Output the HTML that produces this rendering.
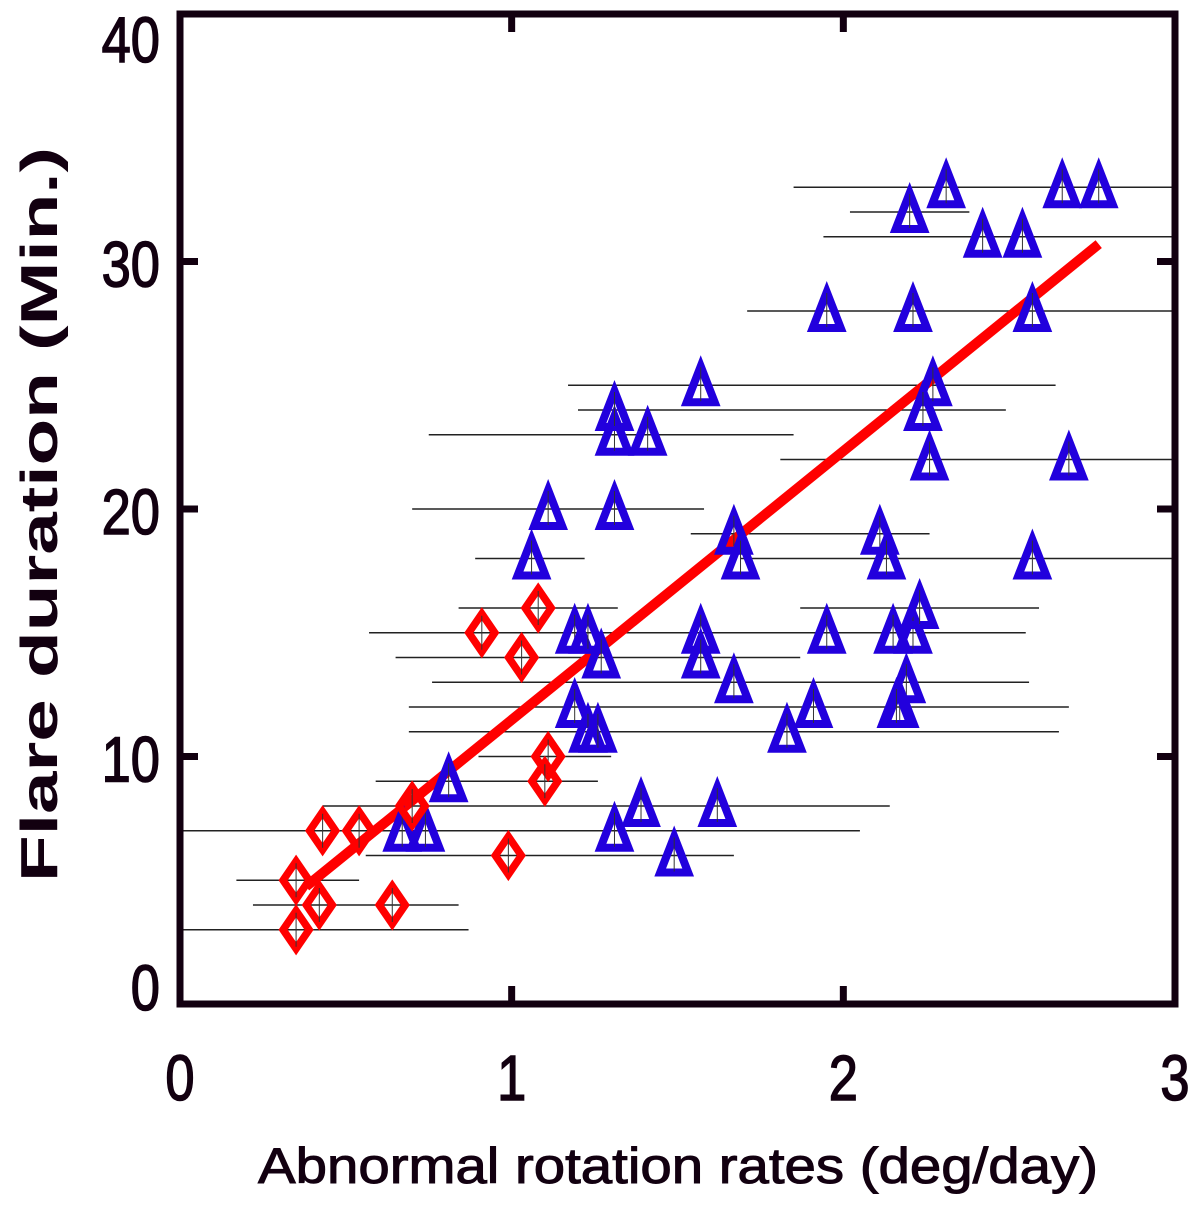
<!DOCTYPE html>
<html><head><meta charset="utf-8"><style>
html,body{margin:0;padding:0;background:#fff;}
svg{display:block;font-family:"Liberation Sans",sans-serif;}
</style></head><body>
<svg id="chart" width="1200" height="1207" viewBox="0 0 1200 1207" xmlns="http://www.w3.org/2000/svg">
<g id="errbars"></g>
<g id="fit"></g>
<g id="marks"></g>
<g id="axes"></g>
</svg>
<script>
const redX=[0.35,0.42,0.35,0.64,0.43,0.54,0.70,0.99,0.91,1.03,1.08,1.11,1.10];
const redY=[3,4,5,4,7,7,8,6,15,14,16,10,9];
const blueX=[1.06,1.19,1.23,1.27,1.19,1.23,1.26,0.81,0.67,0.74,1.31,1.39,1.49,1.62,1.11,1.31,1.31,1.31,1.41,1.57,1.67,1.69,1.57,1.57,1.67,1.83,1.91,1.95,2.11,2.13,2.15,2.21,2.23,2.19,2.17,2.16,1.95,2.21,2.57,2.20,2.31,2.42,2.54,2.66,2.77,2.27,2.24,2.26,2.68,2.57];
const blueY=[18,15,15,14,12,11,11,9,7,7,7,8,6,8,20,20,23,24,23,25,19,18,15,14,13,11,12,15,19,18,15,15,16,13,12,12,28,28,28,32,33,31,31,33,33,25,24,22,22,18];
const ebY=[33,32,31,28,25,24,23,22,20,19,18,18,16,16,15,14,13,12,11,10,9,8,7,6,5,4,3];
const ebLo=[1.85,2.02,1.94,1.71,1.17,1.20,0.75,1.81,0.70,1.54,0.89,1.69,0.84,1.87,0.57,0.65,0.76,0.69,0.69,0.90,0.59,0.43,0.00,0.56,0.17,0.22,0.00];
const ebHi=[3.00,2.38,3.00,3.00,2.64,2.49,1.85,3.00,1.58,2.26,1.22,3.00,1.32,2.59,2.55,1.87,2.56,2.68,2.65,1.30,1.26,2.14,2.05,1.67,0.54,0.84,0.87];
const fitX=[0.38,2.77];
const fitSlope=10.86, fitIntercept=0.62;
const xTicks=[0,1,2,3];
const yTicks=[0,10,20,30,40];

const L=180,R=1175,T=14,B=1004;
const X=v=>L+(v-0)/(3-0)*(R-L);
const Y=v=>B-(v-0)/(40-0)*(B-T);
const NS="http://www.w3.org/2000/svg";
function mk(tag,attrs,parent){const e=document.createElementNS(NS,tag);for(const k in attrs)e.setAttribute(k,attrs[k]);parent.appendChild(e);return e;}

const eb=document.getElementById('errbars');
for(let i=0;i<ebY.length;i++){
  const l=mk('line',{x1:X(ebLo[i]),x2:X(ebHi[i]),y1:Y(ebY[i]),y2:Y(ebY[i]),stroke:'#222','stroke-width':1.5},eb);
  
  
}
const fit=document.getElementById('fit');
const fl=mk('line',{x1:X(fitX[0]),y1:Y(fitIntercept+fitSlope*fitX[0]),x2:X(fitX[1]),y2:Y(fitIntercept+fitSlope*fitX[1]),stroke:'#ff0000','stroke-width':10},fit);



const mg=document.getElementById('marks');
for(let i=0;i<blueX.length;i++){
  const cx=X(blueX[i]),cy=Y(blueY[i]);
  const p=mk('polygon',{points:`${cx},${cy-19} ${cx+14},${cy+17} ${cx-14},${cy+17}`,fill:'none',stroke:'#2200dd','stroke-width':8,'stroke-linejoin':'miter'},mg);
  
  
  mk('line',{x1:cx,x2:cx,y1:cy-18,y2:cy+16,stroke:'#333','stroke-width':1},mg);
}
for(let i=0;i<redX.length;i++){
  const cx=X(redX[i]),cy=Y(redY[i]);
  const p=mk('polygon',{points:`${cx},${cy-19} ${cx+13},${cy} ${cx},${cy+19} ${cx-13},${cy}`,fill:'none',stroke:'#ff0000','stroke-width':7.5},mg);
  
  
  mk('line',{x1:cx,x2:cx,y1:cy-17,y2:cy+17,stroke:'#333','stroke-width':1},mg);
}

const ax=document.getElementById('axes');
const fr=mk('rect',{x:L,y:T,width:R-L,height:B-T,fill:'none',stroke:'#120010','stroke-width':7},ax);


for(const t of yTicks){
  if(t>0&&t<40){
    mk('line',{x1:L,x2:L+18,y1:Y(t),y2:Y(t),stroke:'#120010','stroke-width':7},ax);
    mk('line',{x1:R,x2:R-18,y1:Y(t),y2:Y(t),stroke:'#120010','stroke-width':7},ax);
  }
  const off=t===40?48:t===0?6:25;
  const tx=mk('text',{x:160,y:Y(t)+off,'text-anchor':'end','font-size':64,'stroke':'#120010','stroke-width':1.5,fill:'#120010',transform:`translate(160 0) scale(0.82 1) translate(-160 0)`},ax);
  tx.textContent=t;
  
  
}
for(const t of xTicks){
  if(t>0&&t<3){
    mk('line',{x1:X(t),x2:X(t),y1:B,y2:B-18,stroke:'#120010','stroke-width':7},ax);
    mk('line',{x1:X(t),x2:X(t),y1:T,y2:T+18,stroke:'#120010','stroke-width':7},ax);
  }
  const cx=X(t);
  const tx=mk('text',{x:cx,y:1100,'text-anchor':'middle','font-size':64,'stroke':'#120010','stroke-width':1.5,fill:'#120010',transform:`translate(${cx} 0) scale(0.82 1) translate(${-cx} 0)`},ax);
  tx.textContent=t;
  
  
}
const xl=mk('text',{x:258,y:1183,'font-size':50,textLength:840,lengthAdjust:'spacingAndGlyphs',fill:'#120010','stroke':'#120010','stroke-width':1},ax);
xl.textContent='Abnormal rotation rates (deg/day)';


const yl=mk('text',{x:0,y:0,'font-size':52,'font-weight':'bold',textLength:735,lengthAdjust:'spacingAndGlyphs',fill:'#120010',transform:'translate(57 882) rotate(-90)'},ax);
yl.textContent='Flare duration (Min.)';


</script>
</body></html>
